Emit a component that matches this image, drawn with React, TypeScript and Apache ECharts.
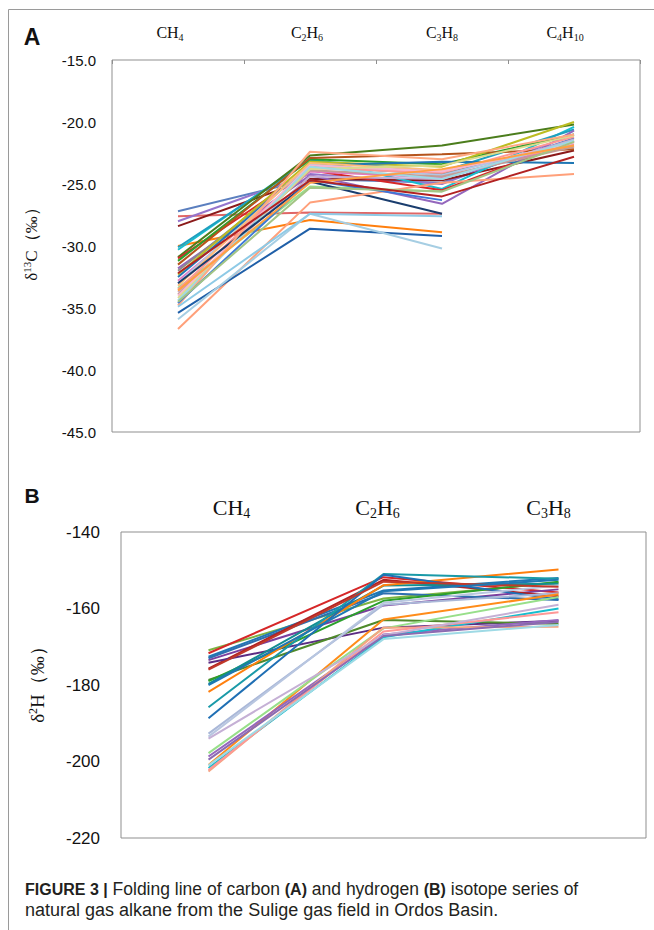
import React, { useEffect, useRef } from "react";
import * as echarts from "echarts";

// ---------- Panel A: δ13C (‰) ----------
const carbonCategories = ["CH4", "C2H6", "C3H8", "C4H10"];
const carbonTicks = [-45, -40, -35, -30, -25, -20, -15];
const carbonValues: (number | null)[][] = [
  [-27.2, -24.6, -24.9, -21.3],
  [-27.6, -27.3, -27.4, null],
  [-28.0, -24.2, -25.0, -21.0],
  [-28.4, -24.6, -24.7, -22.3],
  [-30.0, -27.9, -28.9, null],
  [-30.3, -22.9, -25.4, -20.4],
  [-30.1, -23.1, -24.0, -20.6],
  [-30.9, -22.7, -21.9, -20.2],
  [-31.0, -23.9, -25.5, -21.5],
  [-31.2, -23.0, -23.4, -21.0],
  [-31.5, -22.9, -22.6, -22.2],
  [-31.8, -24.3, -26.6, -20.7],
  [-32.0, -23.6, -24.2, -21.6],
  [-32.3, -23.2, -23.6, -20.0],
  [-32.5, -23.5, -23.2, -23.3],
  [-32.8, -24.0, -24.5, -21.8],
  [-33.0, -23.4, -24.3, -21.5],
  [-33.2, -23.3, -23.9, -21.9],
  [-33.4, -25.2, -25.6, null],
  [-33.5, -23.7, -24.1, -21.2],
  [-33.7, -24.4, -24.6, -21.4],
  [-33.9, -23.9, -24.4, -22.0],
  [-34.0, -23.5, -24.0, -21.7],
  [-34.2, -23.8, -23.5, -21.1],
  [-34.4, -23.6, -24.6, -21.5],
  [-33.0, -24.8, -27.4, null],
  [-36.7, -26.5, -24.9, -24.2],
  [-34.8, -22.4, -23.0, -21.0],
  [-35.4, -28.6, -29.2, null],
  [-35.9, -27.4, -30.2, null],
  [-34.9, -27.4, -27.6, null],
  [-34.6, -24.7, -26.3, null],
  [-34.5, -25.3, -25.6, -21.6],
  [-33.6, -24.9, -23.8, -21.9],
  [-32.2, -24.7, -26.0, -22.8],
];
const carbonColors = [
  "#5b7fbf", "#e06666", "#9575cd", "#8b1a1a", "#ff7f0e", "#17becf", "#1f9fbf",
  "#4b7d1c", "#d62728", "#2ca02c", "#b5541c", "#9467bd", "#8c8c8c", "#bcbd22",
  "#1f77b4", "#e377c2", "#aec7e8", "#ffbb78", "#98df8a", "#ff9896", "#c5b0d5",
  "#c49c94", "#f7b6d2", "#dbdb8d", "#9edae5", "#1a3d6e", "#ffa07a", "#ffa982",
  "#1f5fa8", "#a6cee3", "#8ecae6", "#3c78d8", "#a3c585", "#ff9f43", "#b22222",
];

// ---------- Panel B: δ2H (‰) ----------
const hydrogenCategories = ["CH4", "C2H6", "C3H8"];
const hydrogenTicks = [-220, -200, -180, -160, -140];
const hydrogenValues: number[][] = [
  [-170.9, -157.4, -153.2],
  [-171.7, -151.8, -155.8],
  [-172.6, -155.3, -152.0],
  [-173.5, -159.2, -155.0],
  [-173.0, -156.0, -157.8],
  [-175.7, -152.5, -156.8],
  [-174.2, -165.0, -163.2],
  [-178.7, -163.0, -164.0],
  [-179.0, -158.0, -153.0],
  [-179.7, -154.0, -153.5],
  [-181.8, -153.9, -149.8],
  [-185.8, -151.0, -152.2],
  [-188.7, -151.2, -157.6],
  [-192.7, -159.0, -156.0],
  [-193.5, -158.5, -154.0],
  [-200.9, -162.9, -156.3],
  [-197.8, -165.2, -157.0],
  [-198.7, -166.8, -163.0],
  [-201.7, -167.5, -160.0],
  [-202.6, -165.0, -164.8],
  [-202.2, -166.0, -161.0],
  [-194.0, -167.0, -159.0],
  [-199.5, -167.2, -163.5],
  [-201.0, -168.0, -164.3],
  [-176.0, -153.0, -154.3],
  [-180.0, -155.5, -152.5],
];
const hydrogenColors = [
  "#7cb342", "#d62728", "#1f77b4", "#7b3f9e", "#2e6fb0", "#b22222", "#5b2c83",
  "#4f8a2b", "#2ca02c", "#138d90", "#ff7f0e", "#1a9aa8", "#1f6fb4", "#aab8d8",
  "#b8c6e0", "#ff8c1a", "#98df8a", "#9467bd", "#17becf", "#f4a582", "#ff9896",
  "#c5b0d5", "#8c6bb1", "#9edae5", "#c0392b", "#1f77b4",
];

// horizontal nudges of the category labels (px, + = right)
const carbonLabelShift = [-8, -3, 0, -9];
const hydrogenLabelShift = [23, -6, -10];

const SERIF = "'Liberation Serif', 'DejaVu Serif', serif";
const SANS = "'Liberation Sans', Arial, sans-serif";

function makeLabel(shifts: number[], fontSize: number, subSize: number, subDrop: number) {
  const rich: any = {
    s: { fontSize: subSize, fontFamily: SERIF, color: "#111", padding: [subDrop, 0, 0, 0] },
  };
  shifts.forEach((d, i) => {
    rich["g" + i] = { width: Math.abs(d) * 2, fontSize: 2 };
  });
  return {
    interval: 0,
    hideOverlap: false,
    fontFamily: SERIF,
    fontSize,
    color: "#111",
    rich,
    formatter: (v: string, idx: number) => {
      const body = v.replace(/(\d+)/g, "{s|$1}");
      const d = shifts[idx] || 0;
      if (d === 0) return body;
      const gap = `{g${idx}| }`;
      return d > 0 ? gap + body : body + gap;
    },
  };
}

export default function App() {
  const ref = useRef<HTMLDivElement>(null);
  useEffect(() => {
    document.body.style.margin = "0";
    const chart = echarts.init(ref.current!, null, { renderer: "svg" });
    const series: any[] = [];
    carbonValues.forEach((vals, i) => {
      series.push({
        type: "line",
        xAxisIndex: 0,
        yAxisIndex: 0,
        data: vals,
        symbol: "none",
        connectNulls: false,
        lineStyle: { width: 2, color: carbonColors[i % carbonColors.length] },
        itemStyle: { color: carbonColors[i % carbonColors.length] },
        silent: true,
      });
    });
    hydrogenValues.forEach((vals, i) => {
      series.push({
        type: "line",
        xAxisIndex: 1,
        yAxisIndex: 1,
        data: vals,
        symbol: "none",
        lineStyle: { width: 2, color: hydrogenColors[i % hydrogenColors.length] },
        itemStyle: { color: hydrogenColors[i % hydrogenColors.length] },
        silent: true,
      });
    });

    chart.setOption({
      animation: false,
      backgroundColor: "#ffffff",
      grid: [
        { left: 112, top: 60, width: 528, height: 372, show: true, borderColor: "#8f8f8f", borderWidth: 1, backgroundColor: "transparent" },
        { left: 121, top: 532, width: 525, height: 306, show: true, borderColor: "#8f8f8f", borderWidth: 1, backgroundColor: "transparent" },
      ],
      xAxis: [
        {
          type: "category",
          gridIndex: 0,
          position: "top",
          data: carbonCategories,
          boundaryGap: true,
          axisLine: { show: false },
          axisTick: { show: true, inside: true, length: 4, interval: 0, lineStyle: { color: "#8f8f8f" } },
          axisLabel: { margin: 18, ...makeLabel(carbonLabelShift, 16, 10, 9) },
          splitLine: { show: false },
        },
        {
          type: "category",
          gridIndex: 1,
          position: "top",
          data: hydrogenCategories,
          boundaryGap: true,
          axisLine: { show: false },
          axisTick: { show: false },
          axisLabel: { margin: 12, ...makeLabel(hydrogenLabelShift, 22, 14, 12) },
          splitLine: { show: false },
        },
      ],
      yAxis: [
        {
          type: "value",
          gridIndex: 0,
          min: carbonTicks[0],
          max: carbonTicks[carbonTicks.length - 1],
          interval: 5,
          axisLine: { show: false },
          axisTick: { show: false },
          splitLine: { show: false },
          axisLabel: {
            margin: 16,
            fontFamily: SANS,
            fontSize: 15,
            color: "#111",
            formatter: (v: number) => v.toFixed(1),
          },
        },
        {
          type: "value",
          gridIndex: 1,
          min: hydrogenTicks[0],
          max: hydrogenTicks[hydrogenTicks.length - 1],
          interval: 20,
          axisLine: { show: false },
          axisTick: { show: false },
          splitLine: { show: false },
          axisLabel: {
            margin: 21,
            fontFamily: SANS,
            fontSize: 17,
            color: "#111",
            formatter: (v: number) => String(v),
          },
        },
      ],
      series,
      graphic: [
        { type: "line", shape: { x1: 8.5, y1: 9.5, x2: 654, y2: 9.5 }, style: { stroke: "#9a9a9a", lineWidth: 1 } },
        { type: "line", shape: { x1: 8.5, y1: 9.5, x2: 8.5, y2: 930 }, style: { stroke: "#9a9a9a", lineWidth: 1 } },
        {
          type: "text", x: 32, y: 37,
          style: { text: "A", fontFamily: SANS, fontWeight: "bold", fontSize: 23, fill: "#111", align: "center", verticalAlign: "middle" },
        },
        {
          type: "text", x: 32, y: 495,
          style: { text: "B", fontFamily: SANS, fontWeight: "bold", fontSize: 21, fill: "#111", align: "center", verticalAlign: "middle" },
        },
        {
          type: "text", x: 31, y: 240, rotation: Math.PI / 2,
          style: {
            text: "{a|δ}{s|13}{a|C（‰）}",
            align: "center", verticalAlign: "middle",
            rich: {
              a: { fontFamily: SERIF, fontSize: 17, fill: "#111" },
              s: { fontFamily: SERIF, fontSize: 11, fill: "#111", padding: [0, 0, 8, 0] },
            },
          },
        },
        {
          type: "text", x: 37, y: 680, rotation: Math.PI / 2,
          style: {
            text: "{a|δ}{s|2}{a|H（‰）}",
            align: "center", verticalAlign: "middle",
            rich: {
              a: { fontFamily: SERIF, fontSize: 19, fill: "#111" },
              s: { fontFamily: SERIF, fontSize: 12, fill: "#111", padding: [0, 0, 9, 0] },
            },
          },
        },
        {
          type: "text", x: 25, y: 889,
          style: {
            text: "{b|FIGURE 3 |}{n| Folding line of carbon }{b|(A)}{n| and hydrogen }{b|(B)}{n| isotope series of}",
            verticalAlign: "middle",
            rich: {
              b: { fontFamily: SANS, fontSize: 16, fontWeight: "bold", fill: "#231f20" },
              n: { fontFamily: SANS, fontSize: 17.5, fill: "#231f20" },
            },
          },
        },
        {
          type: "text", x: 25, y: 910,
          style: { text: "natural gas alkane from the Sulige gas field in Ordos Basin.", fontFamily: SANS, fontSize: 18, fill: "#231f20", verticalAlign: "middle" },
        },
      ],
    });
    return () => chart.dispose();
  }, []);
  return <div ref={ref} style={{ position: "absolute", left: 0, top: 0, width: 654, height: 930 }} />;
}
